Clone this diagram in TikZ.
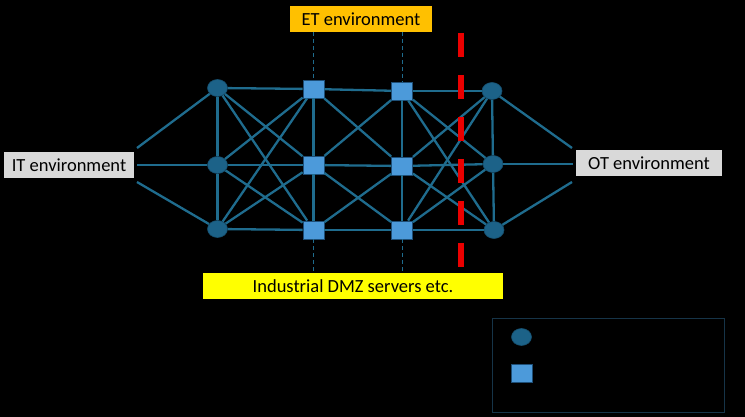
\documentclass[tikz,border=0pt]{standalone}
\usepackage{fontspec}
\setmainfont{Carlito}
\usetikzlibrary{shapes.geometric}
\usetikzlibrary{positioning}
\definecolor{linkblue}{RGB}{31,108,142}
\definecolor{roundfill}{RGB}{28,98,136}
\definecolor{squarefill}{RGB}{76,154,218}
\definecolor{squareedge}{RGB}{30,78,118}
\definecolor{itgray}{RGB}{217,217,217}
\definecolor{etorange}{RGB}{255,192,0}
\definecolor{dmzyellow}{RGB}{255,255,0}
\definecolor{cutred}{RGB}{235,0,0}
\definecolor{legendedge}{RGB}{22,52,72}

\begin{document}
\begin{tikzpicture}[x=1pt,y=-1pt,thick,
    link/.style={draw=linkblue,line width=2.3pt},
    tie/.style={draw=linkblue,line width=1pt,dash pattern=on 4pt off 3pt},
    round node/.style={ellipse,fill=roundfill,draw=roundfill!80!black,line width=0.6pt,minimum width=20pt,minimum height=17pt,inner sep=0pt},
    square node/.style={rectangle,fill=squarefill,draw=squareedge,line width=0.8pt,minimum width=21pt,minimum height=18pt,inner sep=0pt},
    env box/.style={rectangle,inner sep=0pt,minimum height=26pt,font=\fontsize{18.5}{22}\selectfont}]
   % background
   \fill[black] (0,0) rectangle (745,417);
   \useasboundingbox (0,0) rectangle (745,417);
   % environments
   \node[env box,fill=itgray,minimum width=130pt] (it) at (69,165.5) {IT environment};
   \node[env box,fill=itgray,minimum width=146pt] (ot) at (649,163.5) {OT environment};
   \node[env box,fill=etorange,minimum width=142pt] (et) at (361,19) {ET environment};
   \node[env box,fill=dmzyellow,minimum width=300pt] (dmz) at (353,286) {Industrial DMZ servers etc.};
   \coordinate (it up) at (137,148);
   \coordinate (it mid) at (137,165);
   \coordinate (it down) at (137,182);
   \coordinate (ot up) at (572,148);
   \coordinate (ot mid) at (573,164);
   \coordinate (ot down) at (572,182);
   % switches
   \node[round node] (l1) at (217.5,88) {};
   \node[round node] (l2) at (217.5,165) {};
   \node[round node] (l3) at (217.5,229) {};
   \node[square node] (a1) at (313.5,89) {};
   \node[square node] (a2) at (313.5,165) {};
   \node[square node] (a3) at (313.5,230) {};
   \node[square node] (b1) at (402,91) {};
   \node[square node] (b2) at (402,166) {};
   \node[square node] (b3) at (402,230) {};
   \node[round node] (r1) at (492,91) {};
   \node[round node] (r2) at (493,164) {};
   \node[round node] (r3) at (494,230) {};
   % links
   \path[link] (it up) edge (l1) (it mid) edge (l2) (it down) edge (l3);
   \path[link] (l1) edge (l2) (l2) edge (l3);
   \path[link] (l1) edge (a1) edge (a2) edge (a3);
   \path[link] (l2) edge (a1) edge (a2) edge (a3);
   \path[link] (l3) edge (a1) edge (a2) edge (a3);
   \path[link] (a1) edge (a2) (a2) edge (a3);
   \path[link] (a1) edge (b1) edge (b2);
   \path[link] (a2) edge (b1) edge (b2) edge (b3);
   \path[link] (a3) edge (b2) edge (b3);
   \path[link] (b1) edge (b2) (b2) edge (b3);
   \path[link] (b1) edge (r1) edge (r2) edge (r3);
   \path[link] (b2) edge (r1) edge (r2) edge (r3);
   \path[link] (b3) edge (r1) edge (r2) edge (r3);
   \path[link] (r1) edge (r2) (r2) edge (r3);
   \path[link] (r1) edge (ot up) (r2) edge (ot mid) (r3) edge (ot down);
   % ties to ET and DMZ
   \path[tie] (et.south -| a1) edge (a1) (et.south -| b1) edge (b1);
   \path[tie] (a3) edge (dmz.north -| a3) (b3) edge (dmz.north -| b3);
   % IT/OT cut
   \coordinate (cut top) at (461,33);
   \coordinate (cut bottom) at (461,267);
   \draw[cutred,line width=5.5pt,dash pattern=on 24pt off 18pt] (cut top) -- (cut bottom);
   % legend
   \node[draw=legendedge,line width=1.2pt,minimum width=232pt,minimum height=94pt,inner sep=0pt] (legend) at (608.5,365.5) {};
   \node[round node] (key round) at (521.5,337) {};
   \node[square node] (key square) at (521.5,373) {};
\end{tikzpicture}
\end{document}
